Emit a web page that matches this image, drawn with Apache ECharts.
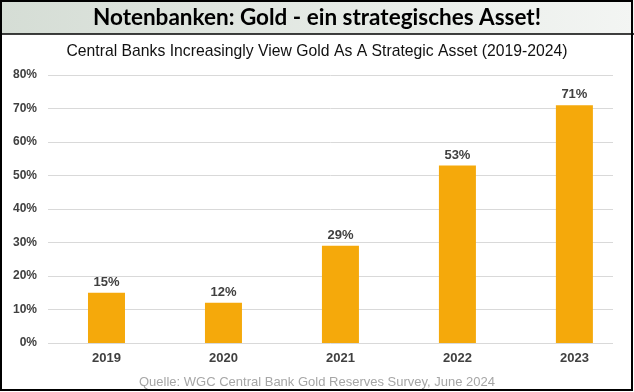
<!DOCTYPE html>
<html><head><meta charset="utf-8">
<script src="https://cdn.jsdelivr.net/npm/echarts@6/dist/echarts.min.js"></script>
<style>html,body{margin:0;padding:0;background:#fff}#c{width:634px;height:392px}</style>
</head><body><div id="c"></div>
<script>
const years = ['2019','2020','2021','2022','2023'];
const shares = [15, 12, 29, 53, 71];
const yTicks = [0,10,20,30,40,50,60,70,80];
const headline = 'Notenbanken: Gold - ein strategisches Asset!';
const subtitle = 'Central Banks Increasingly View Gold As A Strategic Asset (2019-2024)';
const source = 'Quelle: WGC Central Bank Gold Reserves Survey, June 2024';

const chart = echarts.init(document.getElementById('c'), null, {renderer:'canvas'});
chart.setOption({
  animation:false,
  backgroundColor:'#fff',
  graphic:[
    {type:'rect', shape:{x:0,y:0,width:634,height:34}, z:-10,
     style:{fill:new echarts.graphic.LinearGradient(0,0,1,0,[{offset:0,color:'#d5ddd5'},{offset:1,color:'#f3f5f3'}])}},
    {type:'rect', shape:{x:1,y:1,width:631,height:389}, z:100, style:{fill:'none',stroke:'#000',lineWidth:2}},
    {type:'line', shape:{x1:0,y1:34,x2:634,y2:34}, z:100, style:{stroke:'#000',lineWidth:1.5}},
    {type:'text', x:317, y:18, z:50,
     style:{text:headline, align:'center', verticalAlign:'middle',
       font:'bold 22.5px Lato, sans-serif', fill:'#000'}},
    {type:'text', x:317, y:51, scaleX:0.926, z:50,
     style:{text:subtitle, align:'center', verticalAlign:'middle',
       font:'17px "Liberation Sans", Arial, sans-serif', fill:'#111'}},
    {type:'text', x:317, y:382, z:50,
     style:{text:source, align:'center', verticalAlign:'middle',
       font:'13px "Liberation Sans", Arial, sans-serif', fill:'#a6a6a6'}}
  ],
  grid:{left:48, right:21, top:75, bottom:49},
  xAxis:{type:'value', min:-0.5, max:4.33,
    splitLine:{show:false}, axisLine:{show:false}, axisTick:{show:false},
    axisLabel:{customValues:[0,1,2,3,4], formatter:v=>years[Math.round(v)]||'', margin:9,
      fontFamily:'Liberation Sans, Arial, sans-serif', fontWeight:'bold', fontSize:13, color:'#404040'}},
  yAxis:{type:'value', min:0, max:80, interval:10,
    axisLine:{show:false}, axisTick:{show:false},
    splitLine:{lineStyle:{color:'#d9d9d9', width:1}},
    axisLabel:{formatter:'{value}%', margin:11,
      fontFamily:'Liberation Sans, Arial, sans-serif', fontWeight:'bold', fontSize:12, color:'#404040'}},
  series:[{type:'bar', barWidth:37,
    data: shares.map((v,i)=>[i,v]),
    itemStyle:{color:'#F5A90B'},
    label:{show:true, position:'top', distance:4, formatter:p=>p.value[1]+'%',
      fontFamily:'Liberation Sans, Arial, sans-serif', fontWeight:'bold', fontSize:13, color:'#404040'}
  }]
});
</script></body></html>
